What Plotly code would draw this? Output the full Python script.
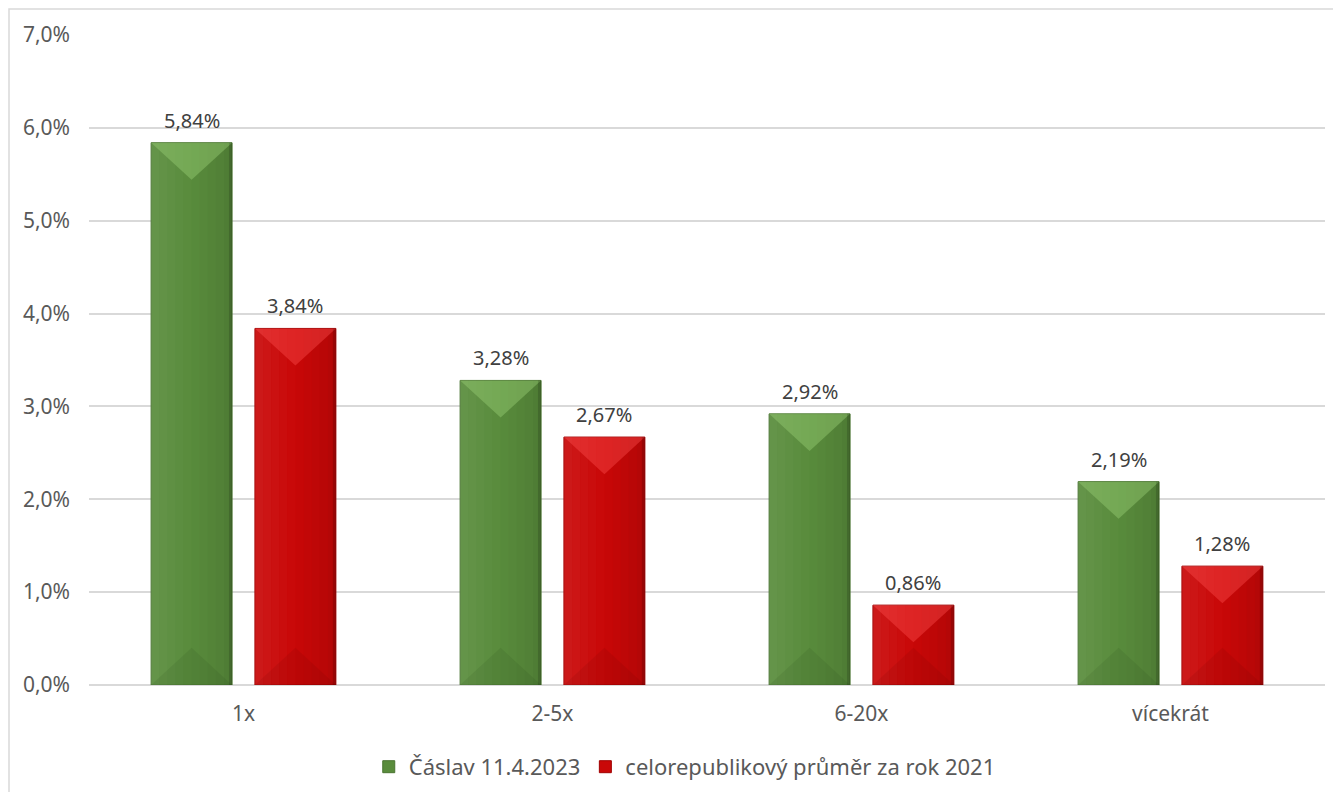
import plotly.graph_objects as go

categories = ["1x", "2-5x", "6-20x", "vícekrát"]
caslav = [5.84, 3.28, 2.92, 2.19]
cr_prumer = [3.84, 2.67, 0.86, 1.28]
series_names = ["Čáslav 11.4.2023", "celorepublikový průměr za rok 2021"]
y_ticks = [0, 1, 2, 3, 4, 5, 6, 7]
y_tick_text = [f"{t:.1f}".replace(".", ",") + "%" for t in y_ticks]

FONT = "Noto Sans"
GREEN = "#598C3C"
GREEN_LINE = "#4A7431"
RED = "#C90808"
RED_LINE = "#A00000"

W, H = 1333, 784
ML, MR, MT, MB = 81, 16, 27, 107

bar_w = 0.262
centers = [-0.168, 0.168]

fig = go.Figure()
for k, (name, vals, col, lc) in enumerate([
        (series_names[0], caslav, GREEN, GREEN_LINE),
        (series_names[1], cr_prumer, RED, RED_LINE)]):
    fig.add_trace(go.Bar(
        x=list(range(len(categories))), y=vals, name=name,
        width=bar_w, offset=centers[k] - bar_w / 2,
        marker=dict(color=col, line=dict(color=lc, width=1)),
        hoverinfo="skip",
    ))

shapes = []
annotations = []
d = 0.40  # bevel depth in data units
n_strips = 10
for k, (vals, light, dark) in enumerate([
        (caslav, "rgba(150,205,115,0.45)", "rgba(30,60,15,0.10)"),
        (cr_prumer, "rgba(255,80,80,0.40)", "rgba(90,0,0,0.10)")]):
    for i, v in enumerate(vals):
        xc = i + centers[k]
        x0 = xc - bar_w / 2
        x1 = xc + bar_w / 2
        dd = min(d, v / 2)
        sw = bar_w / n_strips
        for s in range(n_strips):
            t = s / (n_strips - 1)
            if t < 0.5:
                fc = f"rgba(255,255,255,{0.07 * (1 - 2 * t):.3f})"
            else:
                fc = f"rgba(0,0,0,{0.10 * (2 * t - 1):.3f})"
            shapes.append(dict(type="rect", xref="x", yref="y", layer="above",
                               x0=x0 + s * sw, x1=x0 + (s + 1) * sw, y0=0, y1=v,
                               fillcolor=fc, line=dict(width=0)))
        shapes.append(dict(type="path", xref="x", yref="y", layer="above",
                           path=f"M {x0},{v} L {x1},{v} L {xc},{v - dd} Z",
                           fillcolor=light, line=dict(width=0)))
        shapes.append(dict(type="path", xref="x", yref="y", layer="above",
                           path=f"M {x0},0 L {x1},0 L {xc},{dd} Z",
                           fillcolor=dark, line=dict(width=0)))
        shapes.append(dict(type="rect", xref="x", yref="y", layer="above",
                           x0=x1 - 0.010, x1=x1, y0=0, y1=v,
                           fillcolor="rgba(0,0,0,0.15)", line=dict(width=0)))
        annotations.append(dict(x=xc, y=v, xref="x", yref="y",
                                text=f"{v:.2f}".replace(".", ",") + "%",
                                showarrow=False, yanchor="bottom", yshift=7,
                                font=dict(family=FONT, size=20, color="#404040")))

pw = W - ML - MR
ph = H - MT - MB
shapes.append(dict(type="rect", xref="paper", yref="paper",
                   x0=(-ML + 1) / pw, x1=(W - ML + 10) / pw,
                   y0=-(MB + 10) / ph, y1=(ph + MT - 1) / ph,
                   line=dict(color="#D9D9D9", width=1.5), fillcolor="rgba(0,0,0,0)",
                   layer="below"))

fig.update_layout(
    width=W, height=H,
    margin=dict(l=ML, r=MR, t=MT, b=MB, autoexpand=False),
    paper_bgcolor="white", plot_bgcolor="white",
    separators=", ",
    barmode="overlay",
    showlegend=True,
    legend=dict(orientation="h", x=0.482, xanchor="center", y=-0.126, yanchor="middle",
                font=dict(family=FONT, size=22, color="#595959"),
                itemwidth=30, traceorder="normal"),
    xaxis=dict(tickmode="array", tickvals=list(range(len(categories))), ticktext=categories,
               range=[-0.5, len(categories) - 0.5], showgrid=False, zeroline=False,
               showline=False, ticks="", ticklabelstandoff=14, automargin=False,
               tickfont=dict(family=FONT, size=21, color="#595959")),
    yaxis=dict(range=[0, 7], tickmode="array", tickvals=y_ticks, ticktext=y_tick_text,
               showgrid=True, gridcolor="#D9D9D9", gridwidth=1.5,
               zeroline=True, zerolinecolor="#D9D9D9", zerolinewidth=1.5,
               showline=False, ticks="", ticklabelstandoff=18, automargin=False,
               tickfont=dict(family=FONT, size=21, color="#595959")),
    shapes=shapes,
    annotations=annotations,
)

fig.write_html("out.html")
